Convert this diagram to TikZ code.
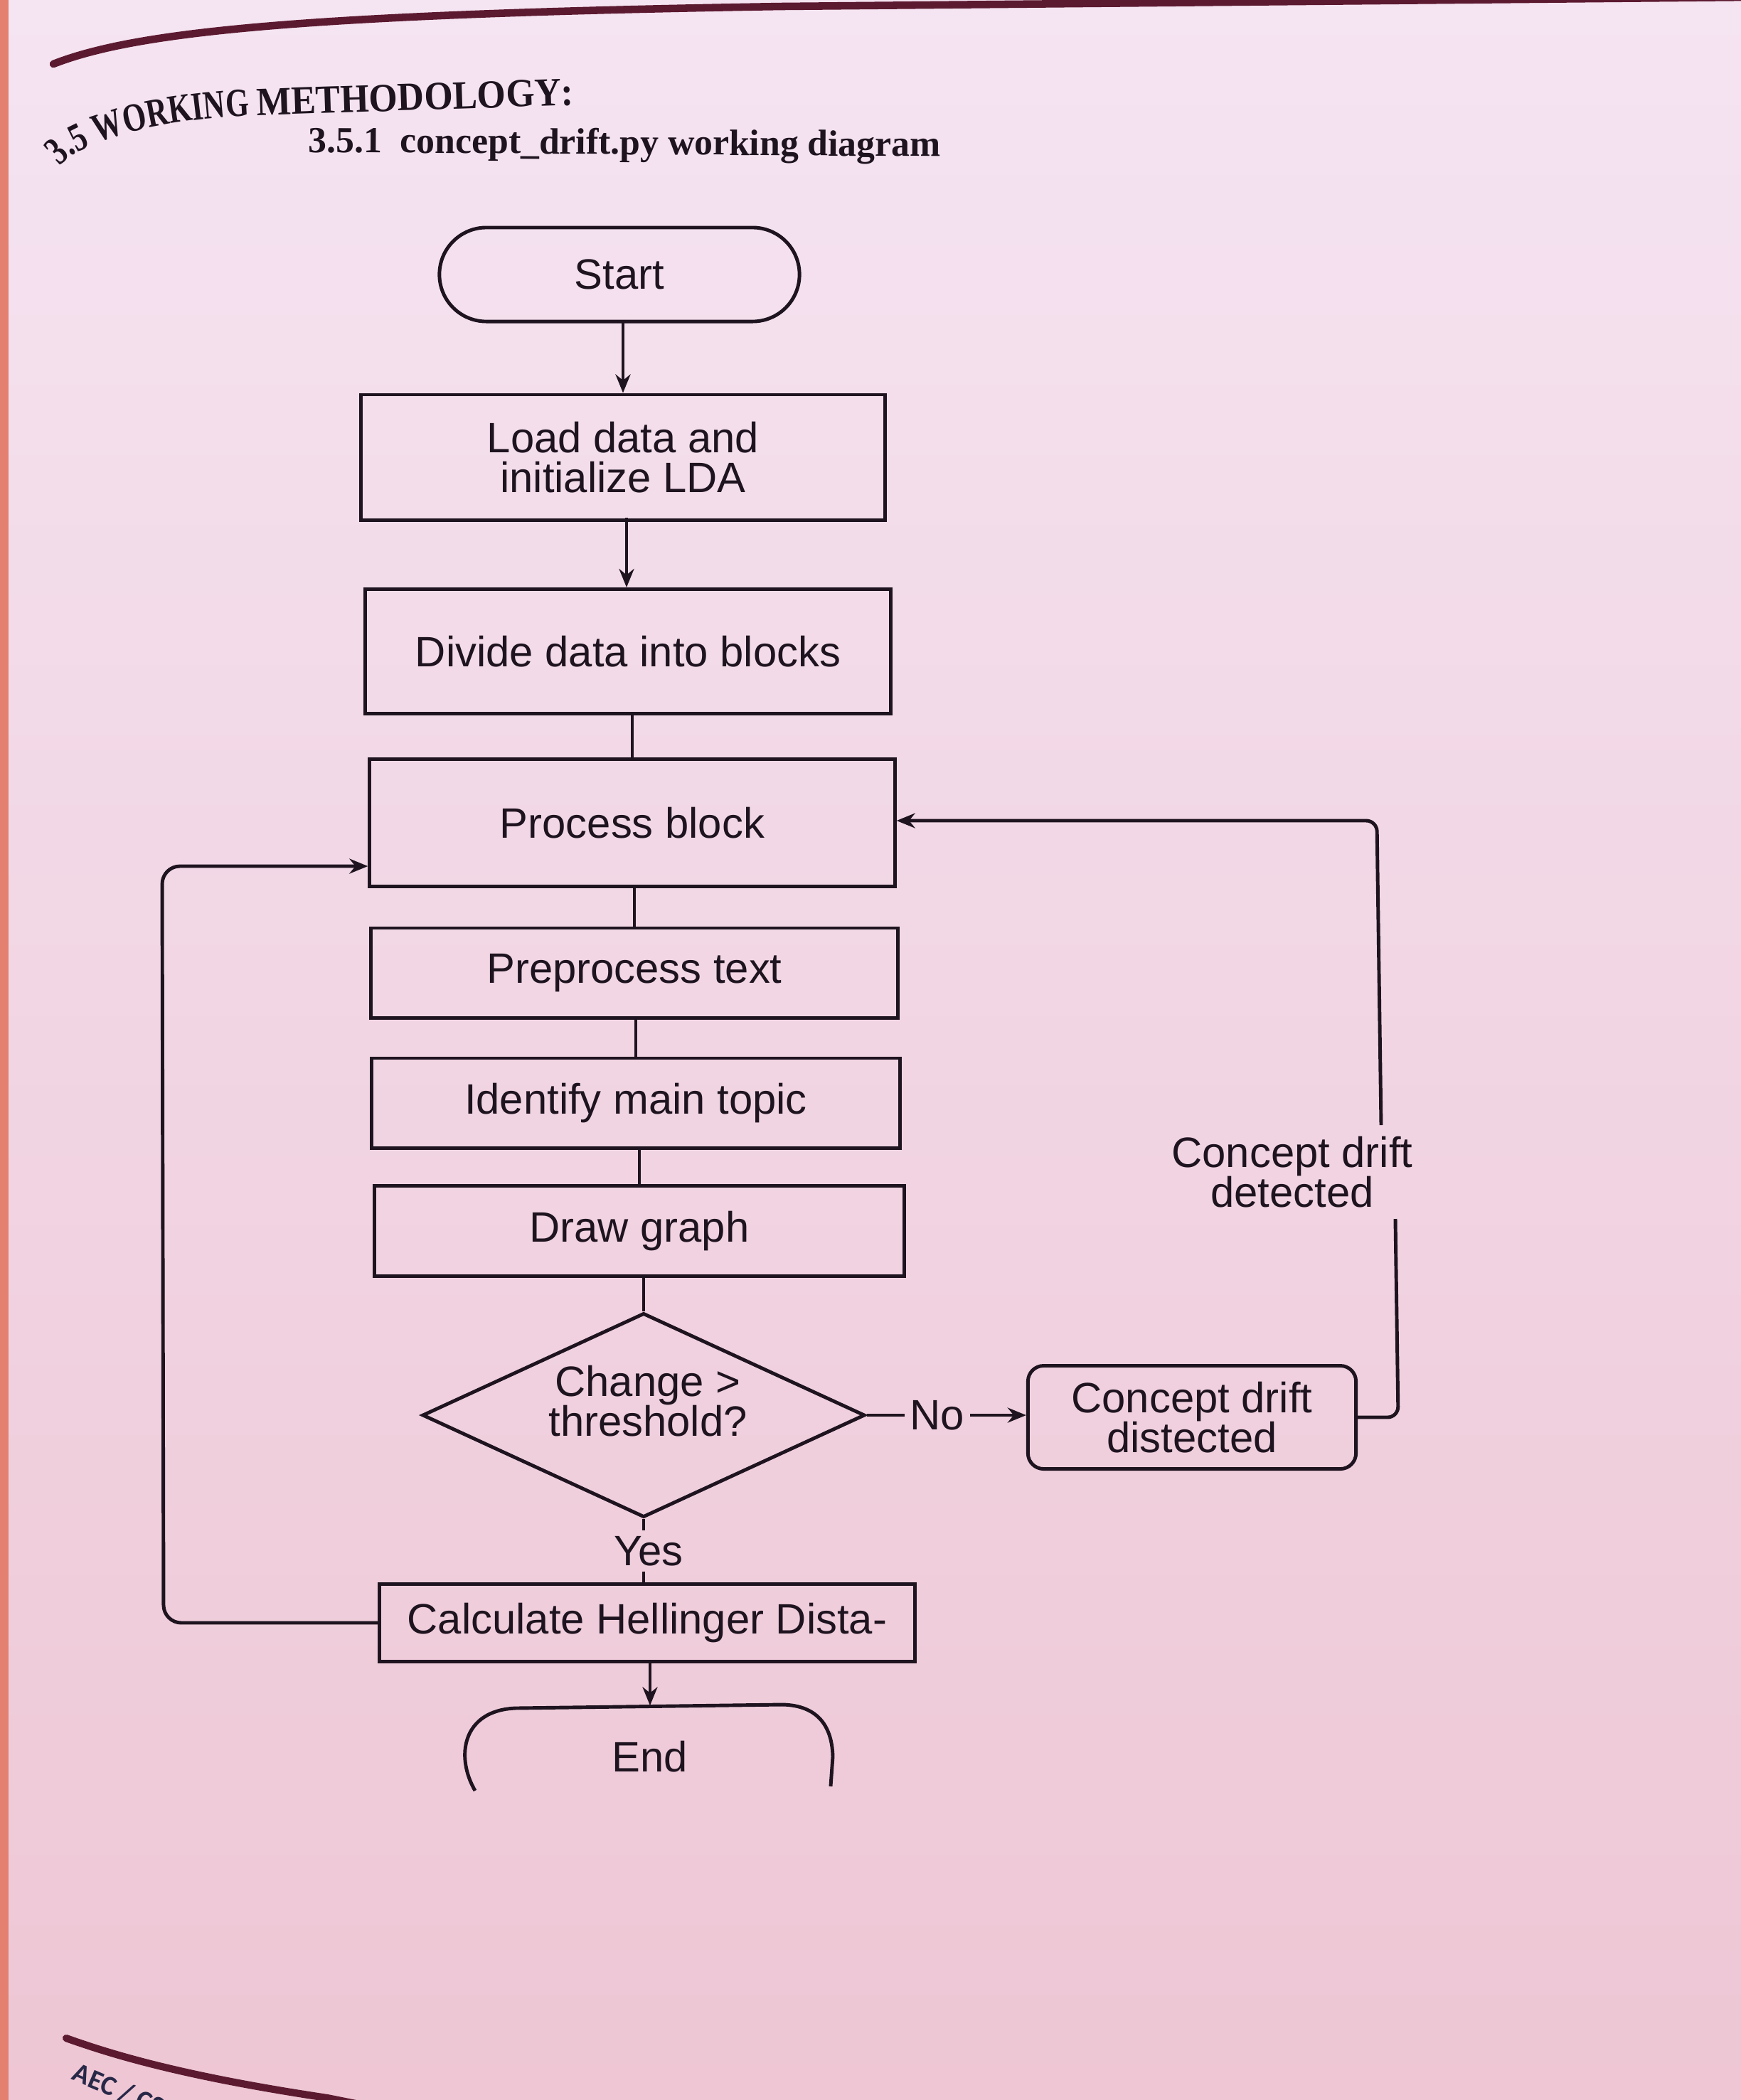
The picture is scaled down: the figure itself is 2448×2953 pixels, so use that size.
\documentclass[tikz,border=0pt]{standalone}
\usepackage{fontspec}
\setmainfont{Liberation Sans}
\newfontfamily\headfontA[FakeStretch=0.75]{Liberation Serif}
\newfontfamily\headfontB[FakeStretch=0.92]{Liberation Serif}
\newfontfamily\subfont{Liberation Serif}
\newfontfamily\footfont{Carlito}
\usetikzlibrary{shapes.geometric,shapes.misc,arrows.meta,decorations.text,calc}
\definecolor{ink}{RGB}{30,20,32}
\definecolor{bgtop}{RGB}{245,228,242}
\definecolor{bgmid}{RGB}{245,219,235}
\definecolor{bgbot}{RGB}{238,198,212}
\definecolor{maroon}{RGB}{92,26,48}
\definecolor{edgered}{RGB}{228,128,112}
\definecolor{navytxt}{RGB}{40,40,72}
\begin{document}
\begin{tikzpicture}[x=0.01cm,y=-0.01cm,
  every node/.style={text=ink},
  box/.style={draw=ink, line width=1.4pt, rectangle, inner sep=0pt, align=center, font=\fontsize{17}{16}\selectfont},
  conn/.style={draw=ink, line width=1.4pt},
  arr/.style={conn, -{Stealth[length=0.26cm,width=0.21cm]}},
  lbl/.style={align=center, font=\fontsize{17}{16}\selectfont, inner sep=2pt}
]
\useasboundingbox (0,0) rectangle (2448,2953);
\shade[top color=bgtop, middle color=bgmid, bottom color=bgbot] (0,0) rectangle (2448,2953);
\fill[edgered] (0,0) rectangle (12,2953);

% page decorations
\draw[maroon, line width=3pt, line cap=round] (75,90) .. controls (190,45) and (420,20) .. (1100,9) -- (2460,-4);
\draw[maroon, line width=2.9pt, line cap=round] (93,2866) .. controls (160,2890) and (260,2920) .. (460,2950) -- (560,2970);
\node[anchor=north west, rotate=-23, inner sep=0pt, text=navytxt, font=\footfont\bfseries\fontsize{11}{11}\selectfont] (aec) at (110,2898) {AEC / CSE};

% headings
\path[decorate, decoration={text along path, text align=left,
  text={|\headfontA\bfseries\fontsize{16}{16}\selectfont\color{ink}|3.5 WORKING |\headfontB\bfseries\fontsize{16}{16}\selectfont\color{ink}|METHODOLOGY:}}]
  (84,234) .. controls (112,198) and (225,168) .. (345,163) -- (800,148) -- (950,144);
\node[anchor=base west, inner sep=0pt, rotate=-0.4, font=\subfont\bfseries\fontsize{14.7}{15}\selectfont] (sub) at (433,214) {3.5.1\ \ concept\_drift.py working diagram};

% nodes
\node[box, rounded rectangle, minimum width=5.06cm, minimum height=1.32cm] (start) at (871,386) {Start};
\node[box, minimum width=7.37cm, minimum height=1.76cm] (load) at (876,643) {Load data and\\initialize LDA};
\node[box, minimum width=7.38cm, minimum height=1.75cm] (divide) at (883,916) {Divide data into blocks};
\node[box, minimum width=7.38cm, minimum height=1.79cm] (process) at (889,1157) {Process block};
\node[box, minimum width=7.40cm, minimum height=1.26cm] (prep) at (892,1368) {Preprocess text};
\node[box, minimum width=7.42cm, minimum height=1.26cm] (ident) at (894,1551) {Identify main topic};
\node[box, minimum width=7.44cm, minimum height=1.27cm] (drawg) at (899,1731) {Draw graph};
\node[box, diamond, aspect=2.17, minimum width=6.22cm, minimum height=2.87cm] (dia) at (905,1990) {};
\node[lbl] (diatxt) at ($(dia.center)+(6,-20)$) {Change >\\threshold?};
\node[box, rounded corners=0.22cm, minimum width=4.61cm, minimum height=1.45cm] (cdd) at (1676,1993) {Concept drift\\distected};
\node[box, minimum width=7.53cm, minimum height=1.09cm] (calc) at (910,2282) {Calculate Hellinger Dista-};
\node[lbl, minimum width=5.2cm, minimum height=1.42cm] (end) at (914,2470) {End};
\draw[conn] (668,2518) .. controls (640,2470) and (650,2405) .. (725,2402) -- (1100,2397) .. controls (1152,2398) and (1170,2430) .. (1171,2470) -- (1168,2512);

\node[lbl] (yes) at (912,2181) {Yes};
\node[lbl] (no) at (1318,1990) {No};
\node[lbl] (cdlab) at (1817,1648) {Concept drift\\detected};

% connectors
\draw[arr] (load.north -| 876,0) ++(0,-103) coordinate (s1) -- (s1 |- load.north);
\draw[arr] (divide.north -| 881,0) ++(0,-98) coordinate (s2) -- (s2 |- divide.north);
\draw[conn] (divide.south -| process.north) -- (process.north);
\draw[conn] (process.south -| prep.north) -- (prep.north);
\draw[conn] (prep.south -| ident.north) -- (ident.north);
\draw[conn] (ident.south -| drawg.north) -- (drawg.north);
\draw[conn] (drawg.south -| dia.north) -- (dia.north);
\draw[conn] (dia.south) -- (dia.south |- yes.north);
\draw[conn] (dia.south |- yes.south) -- (dia.south |- calc.north);
\draw[arr] (calc.south -| end.north) -- (end.north);
\draw[conn] (dia.east) -- (no.west);
\draw[arr] (no.east) -- (no.east -| cdd.west);

\coordinate (rb) at (1966,1993);
\coordinate (gb) at (1962,1714);
\coordinate (gt) at (1942,1582);
\coordinate (rt) at (1936,1154);
\draw[conn, rounded corners=0.15cm] (cdd.east) -- (rb) -- (gb);
\draw[arr, rounded corners=0.15cm] (gt) -- (rt) -- (rt -| process.east);

\coordinate (lb) at (230,2284);
\coordinate (lt) at (228,1218);
\draw[arr, rounded corners=0.25cm] (calc.west) -- (calc.west -| lb) -- (lt) -- (lt -| process.west);
\end{tikzpicture}
\end{document}
